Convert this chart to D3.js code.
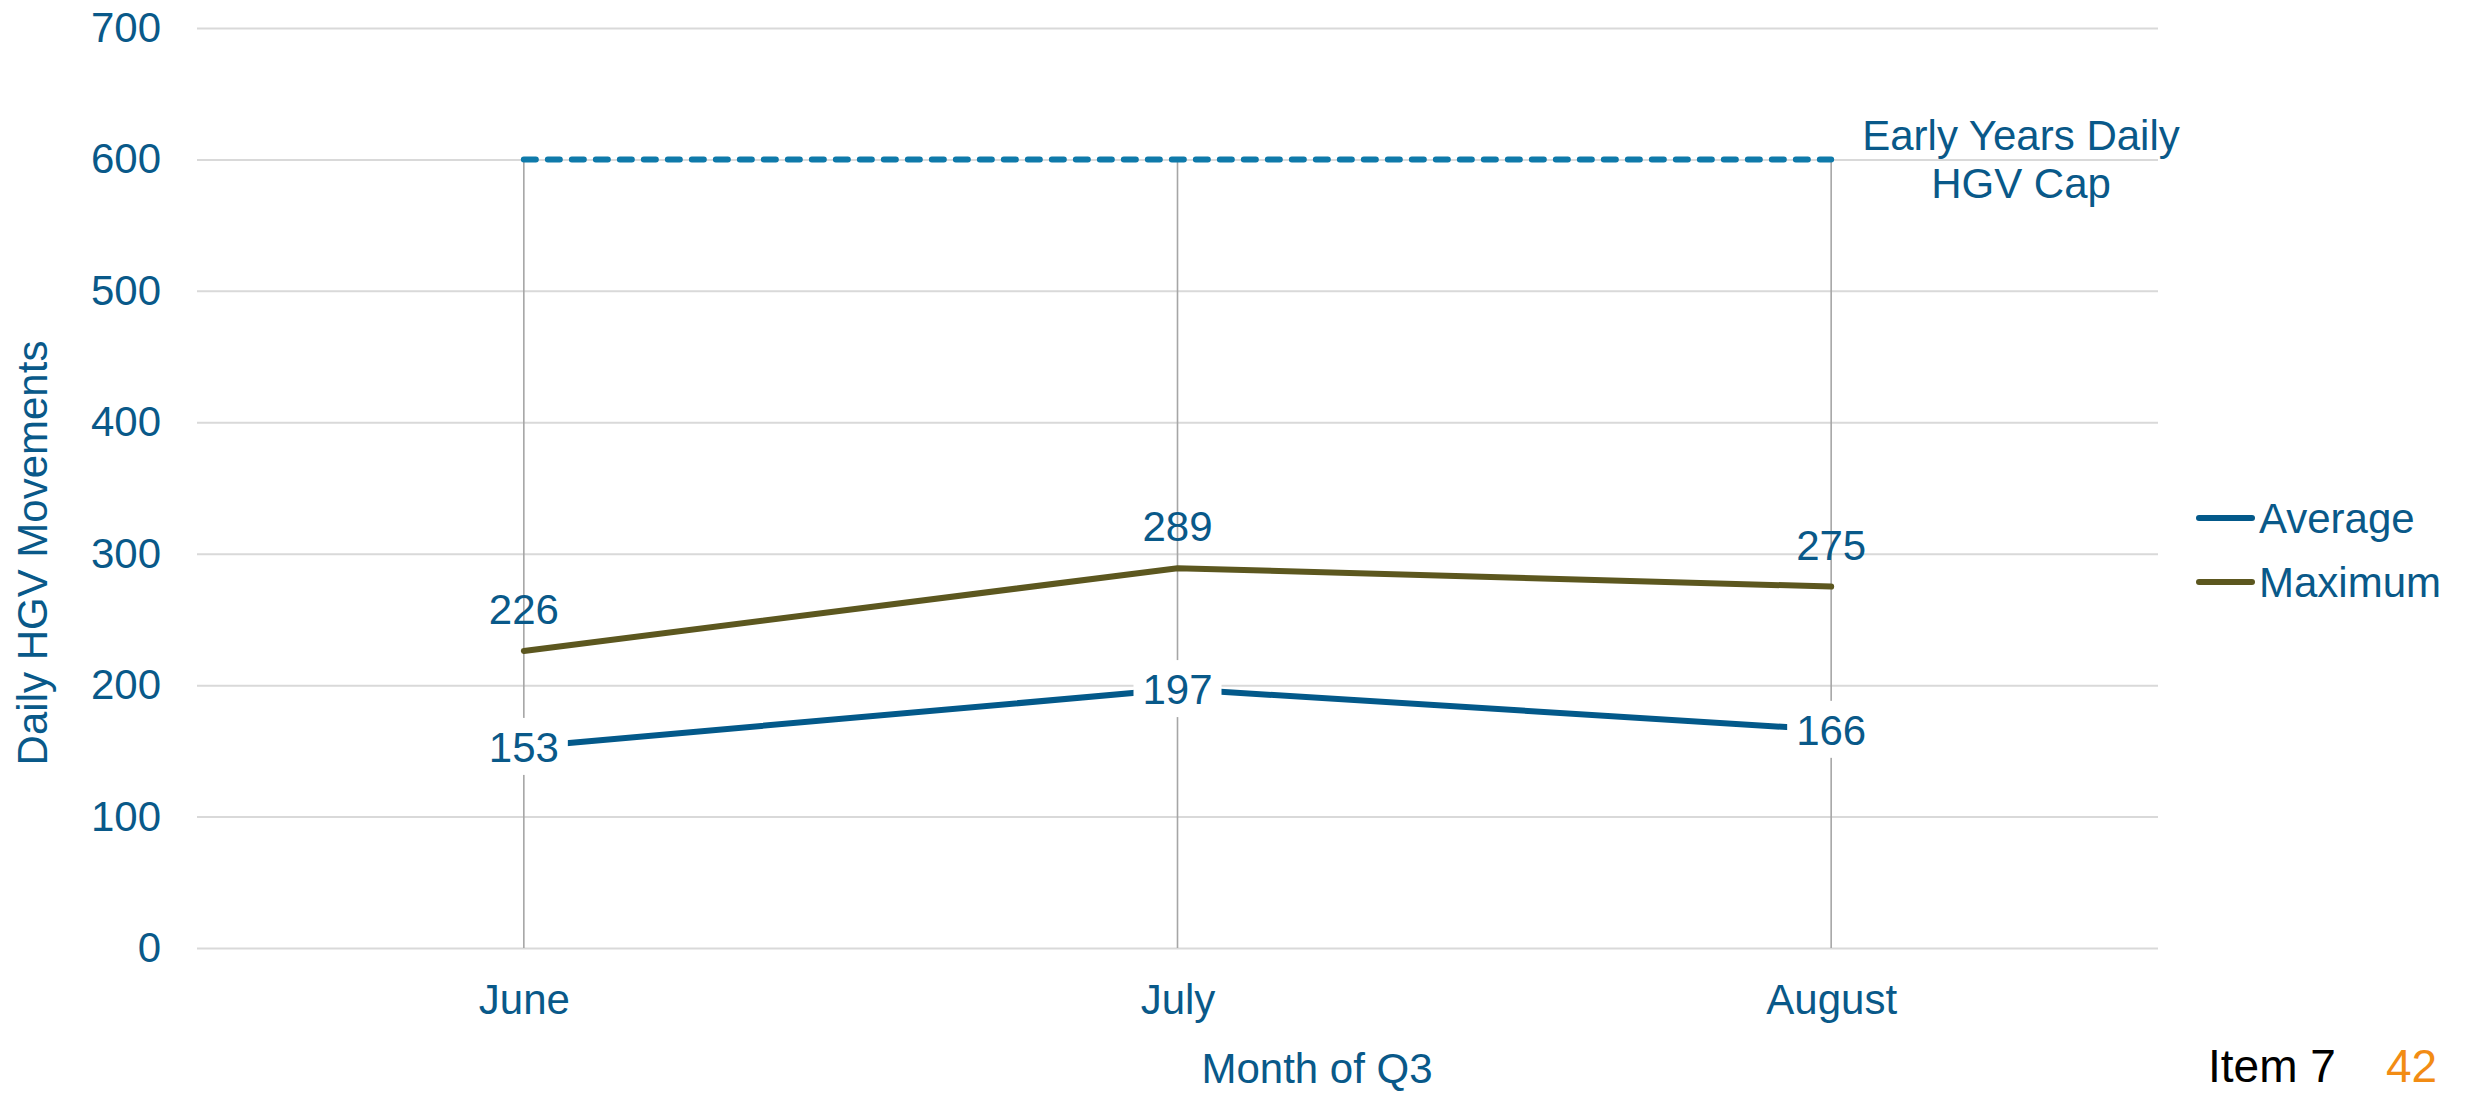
<!DOCTYPE html>
<html>
<head>
<meta charset="utf-8">
<script src="https://cdn.jsdelivr.net/npm/d3@7"></script>
<style>
  html, body { margin: 0; padding: 0; background: #fff; }
  svg { display: block; font-family: "Liberation Sans", Arial, sans-serif; }
</style>
</head>
<body>
<svg id="chart"></svg>
<script>
// data
const months   = ["June", "July", "August"];
const average  = [153, 197, 166];
const maximum  = [226, 289, 275];
const capValue = [600, 600, 600];
const yTicks   = [0, 100, 200, 300, 400, 500, 600, 700];
const capLabel = ["Early Years Daily", "HGV Cap"];

const W = 2466, H = 1093;
const textBlue = "#095989";
const avgColor = "#03598A";
const maxColor = "#5C571F";
const capColor = "#0F7AAA";

const svg = d3.select("#chart").attr("width", W).attr("height", H);

const plotL = 197, plotR = 2158, plotT = 28, plotB = 948;

const x = d3.scalePoint().domain(months).range([plotL, plotR]).padding(0.5);
const y = d3.scaleLinear().domain([0, 700]).range([plotB, plotT]);

// gridlines + y tick labels
const yAxis = svg.append("g")
  .attr("transform", `translate(${plotL},0)`)
  .call(d3.axisLeft(y).tickValues(yTicks).tickSize(-(plotR - plotL)).tickPadding(36));
yAxis.select(".domain").remove();
yAxis.selectAll(".tick line").attr("stroke", "#D9D9D9").attr("stroke-width", 2);
yAxis.selectAll(".tick text")
  .attr("fill", textBlue)
  .style("font-size", "42px")
  .style("font-family", "Liberation Sans, Arial, sans-serif");

// x tick labels
const xAxis = svg.append("g")
  .attr("transform", `translate(0,${plotB})`)
  .call(d3.axisBottom(x).tickSize(0).tickPadding(36));
xAxis.select(".domain").remove();
xAxis.selectAll(".tick text")
  .attr("fill", textBlue)
  .style("font-size", "42px")
  .style("font-family", "Liberation Sans, Arial, sans-serif");

// vertical drop lines from cap to zero
svg.append("g").selectAll("line")
  .data(months)
  .join("line")
  .attr("x1", d => x(d)).attr("x2", d => x(d))
  .attr("y1", (d, i) => y(capValue[i]))
  .attr("y2", y(0))
  .attr("stroke", "#A6A6A6")
  .attr("stroke-width", 1.6);

// cap dashed line
const line = d3.line().x(d => x(d.m)).y(d => y(d.v));
const capPts = months.map((m, i) => ({ m, v: capValue[i] }));
svg.append("path")
  .attr("d", line(capPts))
  .attr("fill", "none")
  .attr("stroke", capColor)
  .attr("stroke-width", 6)
  .attr("stroke-linecap", "round")
  .attr("stroke-dasharray", "12 12");

// series lines
const maxPts = months.map((m, i) => ({ m, v: maximum[i] }));
const avgPts = months.map((m, i) => ({ m, v: average[i] }));

svg.append("path")
  .attr("d", line(maxPts))
  .attr("fill", "none")
  .attr("stroke", maxColor)
  .attr("stroke-width", 6)
  .attr("stroke-linecap", "round");

svg.append("path")
  .attr("d", line(avgPts))
  .attr("fill", "none")
  .attr("stroke", avgColor)
  .attr("stroke-width", 6)
  .attr("stroke-linecap", "round");

// maximum labels (above)
svg.append("g").selectAll("text")
  .data(maxPts)
  .join("text")
  .attr("x", d => x(d.m))
  .attr("y", d => y(d.v) - 27)
  .attr("text-anchor", "middle")
  .attr("fill", textBlue)
  .style("font-size", "42px")
  .text(d => d.v);

// average labels (centred, white box)
const avgLab = svg.append("g").selectAll("g")
  .data(avgPts)
  .join("g")
  .attr("transform", d => `translate(${x(d.m)},${y(d.v)})`);
avgLab.append("rect")
  .attr("x", -44).attr("y", -29)
  .attr("width", 88).attr("height", 57)
  .attr("fill", "#fff");
avgLab.append("text")
  .attr("text-anchor", "middle")
  .attr("dy", "0.36em")
  .attr("fill", textBlue)
  .style("font-size", "42px")
  .text(d => d.v);

// cap label
svg.append("text")
  .attr("x", 2021).attr("y", 150)
  .attr("text-anchor", "middle")
  .attr("fill", textBlue)
  .style("font-size", "42px")
  .selectAll("tspan")
  .data(capLabel)
  .join("tspan")
  .attr("x", 2021)
  .attr("dy", (d, i) => i === 0 ? 0 : 48)
  .text(d => d);

// legend
const legend = [
  { name: "Average", color: avgColor, y: 518 },
  { name: "Maximum", color: maxColor, y: 582 }
];
const lg = svg.append("g").selectAll("g").data(legend).join("g");
lg.append("line")
  .attr("x1", 2199).attr("x2", 2252)
  .attr("y1", d => d.y).attr("y2", d => d.y)
  .attr("stroke", d => d.color)
  .attr("stroke-width", 6)
  .attr("stroke-linecap", "round");
lg.append("text")
  .attr("x", 2259).attr("y", d => d.y + 15)
  .attr("fill", textBlue)
  .style("font-size", "42px")
  .text(d => d.name);

// axis titles
svg.append("text")
  .attr("transform", "translate(47,553) rotate(-90)")
  .attr("text-anchor", "middle")
  .attr("fill", textBlue)
  .style("font-size", "42px")
  .text("Daily HGV Movements");

svg.append("text")
  .attr("x", 1317).attr("y", 1083)
  .attr("text-anchor", "middle")
  .attr("fill", textBlue)
  .style("font-size", "42px")
  .text("Month of Q3");

// footer
svg.append("text")
  .attr("x", 2208).attr("y", 1082)
  .attr("fill", "#000")
  .style("font-size", "46px")
  .text("Item 7");
svg.append("text")
  .attr("x", 2386).attr("y", 1082)
  .attr("fill", "#F28C14")
  .style("font-size", "46px")
  .text("42");
</script>
</body>
</html>
